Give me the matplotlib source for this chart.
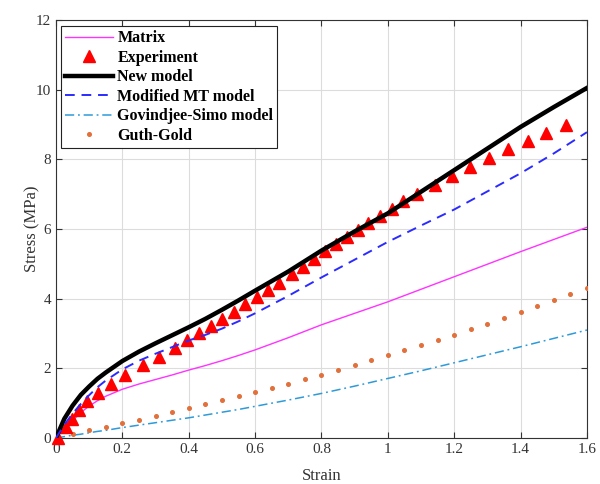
import matplotlib
matplotlib.use("Agg")
import matplotlib.pyplot as plt

# ---------------- data ----------------
model_strain = [0, 0.025, 0.05, 0.075, 0.1, 0.125, 0.15, 0.2, 0.25, 0.3, 0.35, 0.4, 0.45,
                0.5, 0.55, 0.6, 0.7, 0.8, 0.9, 1.0, 1.1, 1.2, 1.3, 1.4, 1.5, 1.6]
matrix_stress = [0, 0.27, 0.5, 0.73, 0.92, 1.07, 1.2, 1.4, 1.55, 1.68, 1.81, 1.95, 2.08,
                 2.22, 2.37, 2.53, 2.88, 3.25, 3.58, 3.91, 4.27, 4.63, 4.99, 5.35, 5.70, 6.05]
new_model_stress = [0, 0.55, 0.93, 1.24, 1.48, 1.70, 1.88, 2.21, 2.48, 2.72, 2.95, 3.18, 3.42,
                    3.68, 3.95, 4.23, 4.78, 5.38, 5.93, 6.45, 7.07, 7.69, 8.31, 8.93, 9.50, 10.05]
mt_stress = [0, 0.38, 0.70, 0.98, 1.23, 1.46, 1.65, 1.97, 2.22, 2.42, 2.61, 2.80, 2.96,
             3.14, 3.35, 3.58, 4.08, 4.61, 5.12, 5.63, 6.10, 6.56, 7.08, 7.60, 8.17, 8.78]
gs_stress = [0, 0.04, 0.08, 0.11, 0.15, 0.19, 0.22, 0.30, 0.37, 0.44, 0.51, 0.58, 0.66,
             0.74, 0.82, 0.91, 1.09, 1.28, 1.49, 1.71, 1.93, 2.16, 2.39, 2.62, 2.86, 3.10]

exp_strain = [0.005, 0.030, 0.047, 0.068, 0.093, 0.126, 0.166, 0.208, 0.263, 0.309,
              0.359, 0.394, 0.430, 0.466, 0.501, 0.536, 0.571, 0.605, 0.638, 0.673,
              0.710, 0.745, 0.778, 0.811, 0.844, 0.876, 0.909, 0.941, 0.975, 1.011,
              1.046, 1.087, 1.142, 1.192, 1.249, 1.306, 1.363, 1.421, 1.478, 1.537]
exp_stress = [0.0, 0.33, 0.55, 0.81, 1.05, 1.29, 1.56, 1.82, 2.09, 2.34,
              2.59, 2.81, 3.01, 3.21, 3.42, 3.62, 3.84, 4.04, 4.25, 4.46,
              4.70, 4.92, 5.14, 5.36, 5.57, 5.77, 5.96, 6.16, 6.37, 6.58,
              6.79, 7.00, 7.26, 7.52, 7.78, 8.05, 8.29, 8.52, 8.75, 8.98]

gg_strain = [0.0, 0.05, 0.1, 0.15, 0.2, 0.25, 0.3, 0.35, 0.4, 0.45, 0.5, 0.55,
             0.6, 0.65, 0.7, 0.75, 0.8, 0.85, 0.9, 0.95, 1.0, 1.05, 1.1, 1.15,
             1.2, 1.25, 1.3, 1.35, 1.4, 1.45, 1.5, 1.55, 1.6]
gg_stress = [0, 0.11, 0.22, 0.32, 0.42, 0.53, 0.64, 0.75, 0.85, 0.97, 1.08, 1.20,
             1.32, 1.44, 1.56, 1.68, 1.82, 1.95, 2.09, 2.23, 2.37, 2.52, 2.66, 2.81,
             2.96, 3.12, 3.28, 3.44, 3.61, 3.78, 3.95, 4.12, 4.30]

x_ticks = [0, 0.2, 0.4, 0.6, 0.8, 1.0, 1.2, 1.4, 1.6]
x_tick_labels = ["0", "0.2", "0.4", "0.6", "0.8", "1", "1.2", "1.4", "1.6"]
y_ticks = [0, 2, 4, 6, 8, 10, 12]

# ---------------- figure ----------------
plt.rcParams['font.family'] = ['Liberation Serif', 'DejaVu Serif']
fig = plt.figure(figsize=(6.0, 4.84), dpi=100)
ax = fig.add_axes([0.0933, 0.095, 0.885, 0.8637])

ax.plot(model_strain, matrix_stress, color='#FF33FF', lw=1.0, label='Matrix', zorder=3)
ax.plot(exp_strain, exp_stress, linestyle='none', marker='^', markersize=8,
        color='#FF0000', markeredgecolor='#FF0000', label='Experiment', zorder=4, clip_on=False)
ax.plot(model_strain, new_model_stress, color='black', lw=3.2, label='New model', zorder=5)
ax.plot(model_strain, mt_stress, color='#2B2BFF', lw=1.4, linestyle=(0, (5, 3.5)),
        label='Modified MT model', zorder=6)
ax.plot(model_strain, gs_stress, color='#2E9AD8', lw=1.1, linestyle=(0, (6, 2.5, 1.2, 2.5)),
        label='Govindjee-Simo model', zorder=3)
ax.plot(gg_strain, gg_stress, linestyle='none', marker='o', markersize=2.6,
        color='#E2703A', label='Guth-Gold', zorder=3)

ax.set_xlim(0, 1.6)
ax.set_ylim(0, 12)
ax.set_xticks(x_ticks)
ax.set_xticklabels(x_tick_labels)
ax.set_yticks(y_ticks)
ax.grid(True, color='#DCDCDC', lw=0.8)
ax.set_axisbelow(True)
ax.tick_params(direction='in', top=True, right=True, length=4, width=0.8,
               labelsize=11, colors='#333333', labelcolor='#333333')
for s in ax.spines.values():
    s.set_color('#333333')
    s.set_linewidth(0.8)

ax.set_xlabel('Strain', fontsize=12, color='#333333', labelpad=9)
ax.set_ylabel('Stress (MPa)', fontsize=12, color='#333333', labelpad=-3)

leg = ax.legend(loc='upper left', bbox_to_anchor=(0.009, 0.985), borderaxespad=0,
                prop={'weight': 'bold', 'size': 11.5}, frameon=True, fancybox=False,
                edgecolor='#222222', framealpha=1, handlelength=3.0, handletextpad=0.3,
                labelspacing=0.22, borderpad=0.25, markerscale=1.0)
leg.get_frame().set_linewidth(0.8)

fig.savefig('out.png', dpi=100)
